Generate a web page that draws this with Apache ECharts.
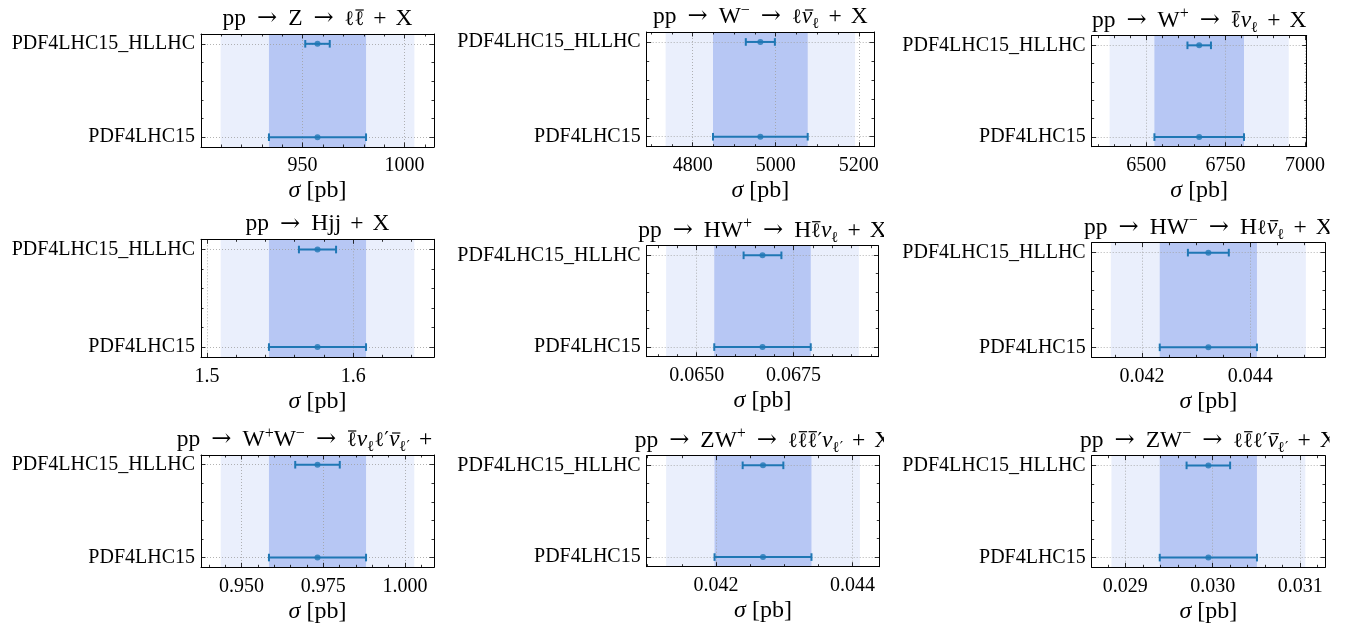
<!DOCTYPE html>
<html>
<head>
<meta charset="utf-8">
<title>PDF4LHC15 vs PDF4LHC15_HLLHC</title>
<script src="https://cdn.jsdelivr.net/npm/echarts@6/dist/echarts.min.js"></script>
<style>
  html, body { margin: 0; padding: 0; background: #fff; }
  #main { width: 1352px; height: 624px; }
</style>
</head>
<body>
<div id="main"></div>
<script>
// one panel per process, row by row
// {l|} ell, {lb|} barred ell, {n|} nu, {nb|} barred nu, {sup|} / {sub|} scripts
const titles = [
  'pp → Z → {l|ℓ}{lb|ℓ} + X',
  'pp → W{sup|−} → {l|ℓ}{nb|ν}{sub|ℓ} + X',
  'pp → W{sup|+} → {lb|ℓ}{n|ν}{sub|ℓ} + X',
  'pp → Hjj + X',
  'pp → HW{sup|+} → H{lb|ℓ}{n|ν}{sub|ℓ} + X',
  'pp → HW{sup|−} → H{l|ℓ}{nb|ν}{sub|ℓ} + X',
  'pp → W{sup|+}W{sup|−} → {lb|ℓ}{n|ν}{sub|ℓ}{l|ℓ′}{nb|ν}{sub|ℓ′} + X',
  'pp → ZW{sup|+} → {l|ℓ}{lb|ℓ}{lb|ℓ}{l|′}{n|ν}{sub|ℓ′} + X',
  'pp → ZW{sup|−} → {l|ℓ}{lb|ℓ}{l|ℓ′}{nb|ν}{sub|ℓ′} + X'
];
const pdfSets = ['PDF4LHC15', 'PDF4LHC15_HLLHC'];   // y = 0, y = 1

// sigma [pb]
const central  = [957.3, 4963, 6667, 1.5756, 0.06670, 0.043226, 0.97322, 0.042690, 0.029950];
const err15    = [23.8, 114, 141, 0.0332, 0.001246, 0.000898, 0.01484, 0.000710, 0.000556];
const errHL    = [6.0, 35, 37, 0.0127, 0.000488, 0.000378, 0.00681, 0.000298, 0.000249];
const errOuter = [47.5, 228, 282, 0.0662, 0.00249, 0.001802, 0.02958, 0.00142, 0.001109];

// x tick labels
const majorTicks = [
  [950, 1000], [4800, 5000, 5200], [6500, 6750, 7000],
  [1.5, 1.6], [0.065, 0.0675], [0.042, 0.044],
  [0.95, 0.975, 1.0], [0.042, 0.044], [0.029, 0.030, 0.031]
];
const tickDecimals = [0, 0, 0, 1, 4, 3, 3, 3, 3];
const minorStep = [10, 50, 50, 0.02, 0.0005, 0.0005, 0.005, 0.0005, 0.0002];

// axes boxes [left, top, width, height]
const boxes = [
  [201, 34, 233, 113], [646.7, 32, 227.3, 114.7], [1091.7, 35.7, 215, 111],
  [201, 239.3, 233, 118], [646.7, 245.7, 231.6, 111], [1091.7, 242.7, 233.3, 114.6],
  [201, 455, 233, 112.3], [646.7, 455.7, 232.6, 111], [1091.7, 455.7, 233.3, 111.6]
];
const clipX = [439.5, 884, 1329.5];

const FONT = '"Liberation Serif", "DejaVu Serif", serif';
const MATH = '"DejaVu Serif", serif';
const BLUE = '#1f77b4';
const bandColors = ['rgba(65,105,225,0.11)', 'rgba(65,105,225,0.3)'];

// title typesetting: font, baseline shift, optional overbar [from, to, height]
const STY = {
  rm:  { font: '23.5px ' + FONT, dy: 0 },
  ar:  { font: '24px ' + MATH, dy: 0 },
  l:   { font: '20.5px ' + MATH, dy: 0 },
  lb:  { font: '20.5px ' + MATH, dy: 0, bar: [0.1, 0.95, 17] },
  n:   { font: 'italic 23.5px ' + FONT, dy: 0 },
  nb:  { font: 'italic 23.5px ' + FONT, dy: 0, bar: [0.3, 1.1, 15] },
  sup: { font: '16px ' + FONT, dy: -9 },
  sub: { font: '15px ' + MATH, dy: 4 }
};
const REL_GAP = 11, BIN_GAP = 9;
const measure = document.createElement('canvas').getContext('2d');

function textMetrics(font, text) {
  measure.font = font;
  measure.textBaseline = 'alphabetic';
  const m = measure.measureText(text);
  const size = parseFloat(font.match(/([\d.]+)px/)[1]);
  const a = m.fontBoundingBoxAscent != null ? m.fontBoundingBoxAscent : 0.9 * size;
  const d = m.fontBoundingBoxDescent != null ? m.fontBoundingBoxDescent : 0.25 * size;
  return { w: m.width, mid: (a - d) / 2 };
}

function parseTitle(t) {
  const out = [];
  const re = /\{(\w+)\|([^}]*)\}|([^{]+)/g;
  let m;
  while ((m = re.exec(t))) {
    if (m[1]) { out.push({ s: m[1], text: m[2] }); continue; }
    m[3].split(/( → | \+ )/).forEach(p => {
      if (p === ' → ') out.push({ gap: REL_GAP }, { s: 'ar', text: '→' }, { gap: REL_GAP });
      else if (p === ' + ') out.push({ gap: BIN_GAP }, { s: 'rm', text: '+' }, { gap: BIN_GAP });
      else if (p) out.push({ s: 'rm', text: p });
    });
  }
  return out;
}

function titleGraphics(t, cx, baseY) {
  const parts = parseTitle(t);
  let total = 0;
  parts.forEach(p => {
    if (p.gap) { p.w = p.gap; }
    else { Object.assign(p, textMetrics(STY[p.s].font, p.text)); }
    total += p.w;
  });
  let x = cx - total / 2;
  const els = [];
  parts.forEach(p => {
    if (!p.gap) {
      const st = STY[p.s];
      const by = baseY + st.dy;
      els.push({ type: 'text', z: 50, silent: true, x: x, y: by - p.mid,
        style: { text: p.text, font: st.font, fill: '#000', textAlign: 'left', textVerticalAlign: 'middle' } });
      if (st.bar) {
        els.push({ type: 'line', z: 50, silent: true,
          shape: { x1: x + st.bar[0] * p.w, y1: by - st.bar[2], x2: x + st.bar[1] * p.w, y2: by - st.bar[2] },
          style: { stroke: '#000', lineWidth: 1.2 } });
      }
    }
    x += p.w;
  });
  return els;
}

function minorValues(i, lo, hi) {
  const step = minorStep[i];
  const out = [];
  for (let k = Math.ceil(lo / step); k * step <= hi; k++) {
    const v = +(k * step).toPrecision(10);
    if (!majorTicks[i].some(m => Math.abs(m - v) < step * 1e-6)) out.push(v);
  }
  return out;
}

function renderBand(params, api) {
  const cs = params.coordSys;
  const x0 = api.coord([api.value(0), 0])[0];
  const x1 = api.coord([api.value(1), 0])[0];
  return {
    type: 'rect',
    shape: { x: x0, y: cs.y, width: x1 - x0, height: cs.height },
    style: { fill: bandColors[api.value(2)] }
  };
}

function renderErr(params, api) {
  const y = api.value(2);
  const a = api.coord([api.value(0), y]);
  const b = api.coord([api.value(1), y]);
  const cap = 3.8;
  const st = { stroke: BLUE, lineWidth: 2 };
  return {
    type: 'group',
    children: [
      { type: 'line', shape: { x1: a[0], y1: a[1], x2: b[0], y2: b[1] }, style: st },
      { type: 'line', shape: { x1: a[0], y1: a[1] - cap, x2: a[0], y2: a[1] + cap }, style: st },
      { type: 'line', shape: { x1: b[0], y1: b[1] - cap, x2: b[0], y2: b[1] + cap }, style: st }
    ]
  };
}

const tickLine = { color: '#000', width: 0.8 };
const gridLine = { color: '#a0a0a0', width: 0.8, type: [1, 2] };
const frameLine = { show: true, onZero: false, lineStyle: { color: '#000', width: 1 } };
const noLine = { show: false, onZero: false };

let grid = [], xAxis = [], yAxis = [], series = [], graphic = [];

titles.forEach((t, i) => {
  const [left, top, width, height] = boxes[i];
  const xmin = central[i] - 2.4 * err15[i];
  const xmax = central[i] + 2.4 * err15[i];
  const xMinor = minorValues(i, xmin, xmax);
  const dec = tickDecimals[i];

  grid.push({ left, top, width, height, containLabel: false, outerBoundsMode: 'none' });

  const xBase = { gridIndex: i, type: 'value', min: xmin, max: xmax, z: 2,
    splitLine: { show: false }, axisLabel: { show: false }, axisLine: noLine };
  xAxis.push(Object.assign({}, xBase, {
    position: 'bottom',
    axisLine: frameLine,
    axisTick: { show: true, inside: true, length: 4.5, customValues: majorTicks[i], lineStyle: tickLine },
    axisLabel: { show: true, customValues: majorTicks[i], margin: 9, color: '#000',
      fontFamily: FONT, fontSize: 20, formatter: v => v.toFixed(dec) },
    splitLine: { show: true, lineStyle: gridLine },
    name: '{i|σ} [pb]', nameLocation: 'middle', nameGap: 32,
    nameTextStyle: { color: '#000', fontFamily: FONT, fontSize: 24,
      rich: { i: { fontStyle: 'italic', fontFamily: FONT, fontSize: 24, color: '#000' } } }
  }));
  xAxis.push(Object.assign({}, xBase, { position: 'bottom',
    axisTick: { show: true, inside: true, length: 2.5, customValues: xMinor, lineStyle: tickLine } }));
  xAxis.push(Object.assign({}, xBase, { position: 'top',
    axisLine: frameLine,
    axisTick: { show: true, inside: true, length: 4.5, customValues: majorTicks[i], lineStyle: tickLine } }));
  xAxis.push(Object.assign({}, xBase, { position: 'top',
    axisTick: { show: true, inside: true, length: 2.5, customValues: xMinor, lineStyle: tickLine } }));

  const yBase = { gridIndex: i, type: 'value', min: -0.105, max: 1.105, z: 2,
    splitLine: { show: false }, axisLabel: { show: false }, axisLine: noLine };
  yAxis.push(Object.assign({}, yBase, {
    position: 'left',
    axisLine: frameLine,
    axisTick: { show: true, inside: true, length: 4.5, customValues: [0, 1], lineStyle: tickLine },
    axisLabel: { show: true, customValues: [0, 1], margin: 6, color: '#000',
      fontFamily: FONT, fontSize: 20, formatter: v => pdfSets[Math.round(v)] },
    splitLine: { show: true, lineStyle: gridLine }
  }));
  yAxis.push(Object.assign({}, yBase, { position: 'left',
    axisTick: { show: true, inside: true, length: 2.5, customValues: [0.2, 0.4, 0.6, 0.8], lineStyle: tickLine } }));
  yAxis.push(Object.assign({}, yBase, { position: 'right',
    axisLine: frameLine,
    axisTick: { show: true, inside: true, length: 4.5, customValues: [0, 1], lineStyle: tickLine } }));
  yAxis.push(Object.assign({}, yBase, { position: 'right',
    axisTick: { show: true, inside: true, length: 2.5, customValues: [0.2, 0.4, 0.6, 0.8], lineStyle: tickLine } }));

  const ax = { xAxisIndex: 4 * i, yAxisIndex: 4 * i };
  series.push(Object.assign({
    type: 'custom', z: 1, silent: true, renderItem: renderBand,
    encode: { x: [0, 1], y: 2 },
    data: [
      [central[i] - errOuter[i], central[i] + errOuter[i], 0],
      [central[i] - err15[i], central[i] + err15[i], 1]
    ]
  }, ax));
  series.push(Object.assign({
    type: 'custom', z: 3, silent: true, renderItem: renderErr,
    encode: { x: [0, 1], y: 2 },
    data: [
      [central[i] - err15[i], central[i] + err15[i], 0],
      [central[i] - errHL[i], central[i] + errHL[i], 1]
    ]
  }, ax));
  series.push(Object.assign({
    type: 'scatter', z: 4, silent: true, symbolSize: 6,
    itemStyle: { color: BLUE },
    data: [[central[i], 0], [central[i], 1]]
  }, ax));

  // title, clipped at the right edge of its tile like the original figure
  graphic.push(...titleGraphics(t, left + width / 2, top - 7));
  const cx = clipX[i % 3];
  graphic.push({
    type: 'rect', z: 60, silent: true,
    shape: { x: cx, y: top - 32, width: Math.min(70, 1352 - cx), height: 30 },
    style: { fill: '#fff' }
  });
});

const chart = echarts.init(document.getElementById('main'));
chart.setOption({
  backgroundColor: '#fff',
  animation: false,
  grid, xAxis, yAxis, series, graphic
});
</script>
</body>
</html>
